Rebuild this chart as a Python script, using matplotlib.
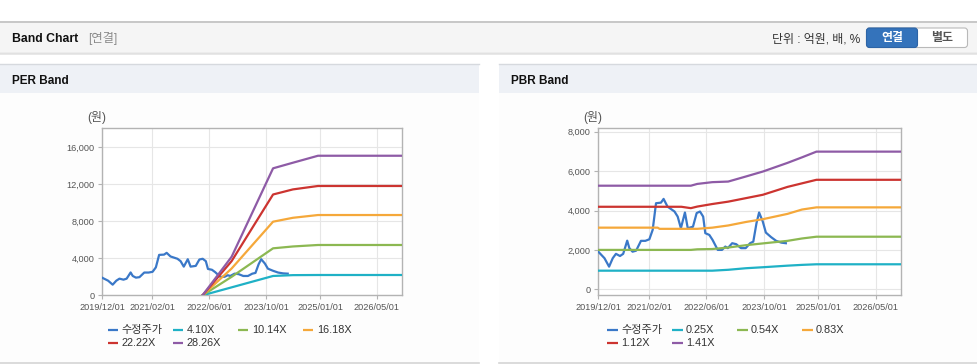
import matplotlib
matplotlib.use('Agg')
import matplotlib.pyplot as plt
from matplotlib.patches import Rectangle, FancyBboxPatch
from matplotlib.ticker import FuncFormatter
import pandas as pd

plt.rcParams['font.family'] = ['Liberation Sans', 'Noto Sans CJK KR', 'DejaVu Sans']

# ---------------- data ----------------
price_label = '수정주가'
price_dates = ["2019-12-01", "2020-01-22", "2020-03-01", "2020-04-01", "2020-04-28",
               "2020-06-01", "2020-06-28", "2020-08-01", "2020-08-19", "2020-09-15",
               "2020-10-15", "2020-11-25", "2021-01-01", "2021-02-04", "2021-03-04",
               "2021-04-01", "2021-05-13", "2021-06-04", "2021-07-07", "2021-09-04",
               "2021-10-01", "2021-10-28", "2021-12-01", "2021-12-25", "2022-02-07",
               "2022-03-10", "2022-04-07", "2022-05-04", "2022-05-22", "2022-06-25",
               "2022-07-22", "2022-09-04", "2022-10-10", "2022-11-07", "2022-11-28",
               "2023-01-04", "2023-02-07", "2023-03-19", "2023-04-28", "2023-06-04",
               "2023-07-01", "2023-07-28", "2023-08-19", "2023-09-19", "2023-10-15",
               "2023-11-28", "2024-01-10", "2024-02-22", "2024-04-01"]
price_values = [1910, 1580, 1150, 1580, 1800, 1690, 1800, 2470, 2090, 1910,
                1960, 2460, 2460, 2540, 3020, 4370, 4400, 4590, 4200, 3950,
                3690, 3100, 3900, 3100, 3180, 3870, 3950, 3690, 2850, 2760,
                2510, 2000, 2000, 2170, 2090, 2340, 2290, 2090, 2090, 2340,
                2420, 3360, 3900, 3440, 2880, 2650, 2460, 2370, 2340]

per_dates = ["2022-04-06", "2022-12-10", "2023-11-28", "2024-05-15", "2024-12-15", "2026-12-01"]
per_labels = ['4.10X', '10.14X', '16.18X', '22.22X', '28.26X']
per_4_10 = [0, 860, 2090, 2180, 2195, 2195]
per_10_14 = [0, 2000, 5080, 5280, 5440, 5440]
per_16_18 = [0, 2900, 7960, 8380, 8680, 8680]
per_22_22 = [0, 3700, 10900, 11450, 11820, 11820]
per_28_26 = [0, 4170, 13730, 14335, 15090, 15090]

pbr_dates = ["2019-12-01", "2021-04-15", "2021-05-01", "2021-11-01", "2022-01-20",
             "2022-03-15", "2022-07-20", "2022-12-01", "2023-05-01", "2023-09-20",
             "2024-04-15", "2024-08-15", "2024-12-15", "2026-12-01"]
pbr_labels = ['0.25X', '0.54X', '0.83X', '1.12X', '1.41X']
pbr_0_25 = [945, 945, 945, 945, 945, 945, 945, 990, 1070, 1120, 1200, 1240, 1270, 1270]
pbr_0_54 = [2000, 2000, 2000, 2000, 2000, 2030, 2045, 2120, 2240, 2330, 2460, 2580, 2670, 2670]
pbr_0_83 = [3130, 3130, 3070, 3070, 3070, 3070, 3130, 3240, 3420, 3560, 3830, 4050, 4160, 4160]
pbr_1_12 = [4190, 4190, 4190, 4190, 4120, 4200, 4330, 4450, 4630, 4800, 5200, 5380, 5560, 5560]
pbr_1_41 = [5260, 5260, 5260, 5260, 5260, 5350, 5440, 5470, 5730, 5980, 6420, 6700, 6990, 6990]

x_tick_dates = ["2019-12-01", "2021-02-01", "2022-06-01", "2023-10-01", "2025-01-01", "2026-05-01"]
x_tick_labels = ["2019/12/01", "2021/02/01", "2022/06/01", "2023/10/01", "2025/01/01", "2026/05/01"]
x_range = ["2019-12-01", "2026-12-01"]
per_yticks = [0, 4000, 8000, 12000, 16000]
pbr_yticks = [0, 2000, 4000, 6000, 8000]

price_color = '#3a78c8'
band_colors = ['#1fb1c6', '#8cb852', '#f5a83a', '#cc3430', '#8e5ba6']

# ---------------- figure ----------------
W, H = 978, 364
fig = plt.figure(figsize=(W / 100, H / 100), dpi=100)
fig.patch.set_facecolor('white')

bg = fig.add_axes([0, 0, 1, 1])
bg.set_xlim(0, W)
bg.set_ylim(H, 0)
bg.axis('off')

# top header bar
bg.add_patch(Rectangle((0, 22.5), W, 30, facecolor='#f5f5f5', edgecolor='none'))
bg.plot([0, W], [22.3, 22.3], color='#bdbdbd', lw=1.2)
bg.plot([0, W], [52.8, 52.8], color='#c9c9c9', lw=1.0)
bg.plot([0, W], [54.0, 54.0], color='#e6e6e6', lw=1.2)
bg.text(12, 38.5, 'Band Chart', fontsize=8.8, fontweight='bold', color='#111', va='center', ha='left')
bg.text(88, 38.5, '[연결]', fontsize=8.8, color='#8a8a8a', va='center', ha='left')
bg.text(860, 39, '단위 : 억원, 배, %', fontsize=8.6, color='#333', va='center', ha='right')
bg.add_patch(FancyBboxPatch((866.5, 28), 101, 19.5, boxstyle='round,pad=0,rounding_size=3',
                            facecolor='white', edgecolor='#b9b9b9', lw=0.8))
bg.add_patch(FancyBboxPatch((866.5, 28), 51, 19.5, boxstyle='round,pad=0,rounding_size=3',
                            facecolor='#3473bb', edgecolor='#2d64a6', lw=0.8))
bg.text(892, 38, '연결', fontsize=8.6, fontweight='bold', color='white', va='center', ha='center')
bg.text(942.5, 38, '별도', fontsize=8.6, fontweight='bold', color='#555', va='center', ha='center')

# panels
for px0, px1, title in [(0, 479, 'PER Band'), (499, 978, 'PBR Band')]:
    bg.add_patch(Rectangle((px0, 64.5), px1 - px0, 28, facecolor='#eef1f6', edgecolor='none'))
    bg.plot([px0, px1], [64.3, 64.3], color='#d6d9de', lw=1.0)
    bg.add_patch(Rectangle((px0, 92.5), px1 - px0, 269.5, facecolor='#fdfdfd', edgecolor='none'))
    bg.plot([px0, px1], [362.5, 362.5], color='#d4d4d4', lw=1.2)
    bg.text(px0 + 12, 80.5, title, fontsize=8.5, fontweight='bold', color='#111', va='center', ha='left')

fmt = FuncFormatter(lambda v, p: f'{int(v):,}')
xt = pd.to_datetime(x_tick_dates)
xr = pd.to_datetime(x_range)


def make_axes(rect, ylim, yticks, band_dates, bands, labels, unit_x, legend_x0):
    ax = fig.add_axes(rect)
    ax.set_facecolor('white')
    ax.plot(pd.to_datetime(price_dates), price_values, color=price_color, lw=1.6, zorder=3)
    bd = pd.to_datetime(band_dates)
    for vals, c in zip(bands, band_colors):
        ax.plot(bd, vals, color=c, lw=1.6, zorder=4)
    ax.set_xlim(xr[0], xr[1])
    ax.set_ylim(*ylim)
    ax.set_xticks(xt)
    ax.set_xticklabels(x_tick_labels)
    ax.set_yticks(yticks)
    ax.yaxis.set_major_formatter(fmt)
    ax.grid(True, color='#e6e6e6', lw=0.8)
    ax.set_axisbelow(True)
    for s in ax.spines.values():
        s.set_color('#b3b3b3')
        s.set_linewidth(1.0)
    ax.tick_params(axis='both', labelsize=6.6, labelcolor='#555', color='#b3b3b3',
                   length=3, width=0.8, pad=2.5)
    bg.text(unit_x, 117, '(원)', fontsize=8.6, color='#555', ha='center', va='center')
    # legend
    names = [price_label] + labels
    colors = [price_color] + band_colors
    for i, (n, c) in enumerate(zip(names, colors)):
        col, row = i % 4, i // 4
        lx = legend_x0 + col * 65
        ly = 330 + row * 13.3
        bg.plot([lx, lx + 10.7], [ly, ly], color=c, lw=1.6, solid_capstyle='butt')
        bg.text(lx + 14, ly, n, fontsize=8.0 if i == 0 else 7.8, color='#333', ha='left', va='center')
    return ax


ax1 = make_axes([102 / W, (H - 295.3) / H, 300 / W, 167.3 / H], (0, 18090), per_yticks,
                per_dates, [per_4_10, per_10_14, per_16_18, per_22_22, per_28_26], per_labels,
                97, 107.7)
ax2 = make_axes([598.3 / W, (H - 295.3) / H, 303 / W, 167.3 / H], (-305, 8190), pbr_yticks,
                pbr_dates, [pbr_0_25, pbr_0_54, pbr_0_83, pbr_1_12, pbr_1_41], pbr_labels,
                593, 607)

fig.savefig('out.png', dpi=100, facecolor='white')
